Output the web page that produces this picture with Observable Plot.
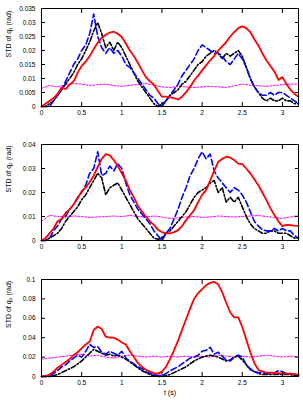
<!DOCTYPE html>
<html><head><meta charset="utf-8">
<script src="https://cdn.jsdelivr.net/npm/d3@7"></script>
<script src="https://cdn.jsdelivr.net/npm/@observablehq/plot@0.6"></script>
<style>
html,body{margin:0;padding:0;background:#fff;}
#chart svg{display:block;}
</style></head><body><div id="chart"></div>
<script>
// time grids (s)
const tFine = d3.range(65).map(i => +(i * 0.05).toFixed(2));   // 0 .. 3.2 step 0.05
const tCoarse = d3.range(33).map(i => +(i * 0.1).toFixed(1));  // 0 .. 3.2 step 0.1

const xTicks = [0, 0.5, 1, 1.5, 2, 2.5, 3];
const yTicks1 = [0, 0.005, 0.01, 0.015, 0.02, 0.025, 0.03, 0.035];
const yTicks2 = [0, 0.01, 0.02, 0.03, 0.04];
const yTicks3 = [0, 0.02, 0.04, 0.06, 0.08, 0.1];

const labels = ["STD of q\u2081 (rad)", "STD of q\u2082 (rad)", "STD of q\u2083 (rad)"];
const xLabel = "t (s)";

// ---- q1 ----
const red1 = [0,0.001,0.002,0.003,0.0045,0.0068,0.0062,0.0078,0.009,0.012,
  0.0145,0.016,0.018,0.0205,0.0228,0.0245,0.0256,0.0264,0.0267,0.026,
  0.0248,0.0225,0.020,0.018,0.0156,0.013,0.0105,0.009,0.0078,0.0055,
  0.0035,0.0035,0.0033,0.003,0.0025,0.0035,0.0051,0.007,0.0093,0.011,
  0.0129,0.0147,0.0165,0.018,0.020,0.0215,0.023,0.025,0.0266,0.028,
  0.0286,0.028,0.0266,0.024,0.0218,0.019,0.0165,0.0145,0.0125,0.0095,
  0.0105,0.008,0.006,0.0045,0.0035];
const blue1 = [0,0,0,0.002,0.004,0.006,0.009,0.012,0.015,0.017,
  0.020,0.022,0.026,0.033,0.025,0.021,0.019,0.021,0.019,0.020,
  0.018,0.015,0.014,0.012,0.010,0.008,0.006,0.004,0.003,0.001,
  0.000,0.002,0.004,0.006,0.008,0.011,0.013,0.015,0.017,0.020,
  0.022,0.021,0.020,0.019,0.019,0.018,0.016,0.015,0.017,0.019,
  0.017,0.014,0.010,0.007,0.005,0.004,0.004,0.005,0.004,0.005,
  0.005,0.004,0.003,0.002,0.001];
const black1 = [0,0,0.001,0.002,0.004,0.006,0.008,0.010,0.012,0.015,
  0.017,0.020,0.023,0.027,0.030,0.026,0.021,0.023,0.020,0.023,
  0.021,0.018,0.015,0.012,0.009,0.007,0.005,0.003,0.001,0.000,
  0.001,0.002,0.004,0.005,0.006,0.008,0.009,0.011,0.013,0.015,
  0.016,0.018,0.019,0.020,0.019,0.017,0.019,0.018,0.019,0.020,
  0.018,0.014,0.010,0.007,0.005,0.003,0.002,0.003,0.002,0.002,
  0.003,0.002,0.002,0.001,0.001];
const magenta1 = [0.0065,0.0075,0.0070,0.0078,0.0082,0.0080,0.0075,0.0078,0.0080,0.0075,
  0.0072,0.0076,0.0078,0.0082,0.0076,0.0070,0.0068,0.0072,0.0070,0.0068,
  0.0070,0.0072,0.0070,0.0068,0.0074,0.0080,0.0076,0.0074,0.0072,0.0075,
  0.0078,0.0080,0.0080];

// ---- q2 ----
const red2 = [0,0.001,0.003,0.005,0.008,0.009,0.0115,0.013,0.015,0.0175,
  0.0205,0.022,0.0244,0.027,0.0307,0.034,0.036,0.0355,0.0335,0.031,
  0.028,0.025,0.021,0.018,0.0145,0.012,0.010,0.008,0.0065,0.0045,
  0.0035,0.003,0.003,0.0035,0.0043,0.006,0.0085,0.0105,0.0126,0.016,
  0.019,0.021,0.025,0.029,0.0328,0.034,0.0349,0.0345,0.0335,0.032,
  0.0318,0.030,0.028,0.0255,0.023,0.020,0.0168,0.0135,0.0106,0.008,
  0.006,0.0065,0.0064,0.0062,0.0061];
const blue2 = [0,0,0.001,0.004,0.006,0.009,0.010,0.013,0.015,0.018,
  0.020,0.023,0.028,0.030,0.037,0.027,0.028,0.031,0.029,0.032,
  0.030,0.024,0.019,0.016,0.013,0.011,0.009,0.007,0.004,0.002,
  0.000,0.003,0.005,0.009,0.013,0.018,0.022,0.027,0.030,0.034,
  0.037,0.034,0.036,0.029,0.026,0.024,0.022,0.020,0.022,0.021,
  0.019,0.016,0.012,0.008,0.006,0.0045,0.004,0.004,0.005,0.004,
  0.005,0.004,0.004,0.002,0.001];
const black2 = [0,0,0.001,0.002,0.003,0.005,0.008,0.010,0.012,0.014,
  0.017,0.019,0.022,0.025,0.028,0.026,0.019,0.022,0.023,0.024,
  0.021,0.018,0.015,0.012,0.009,0.007,0.005,0.003,0.001,0.0005,
  0.001,0.003,0.004,0.006,0.008,0.010,0.012,0.015,0.018,0.020,
  0.021,0.022,0.024,0.025,0.020,0.022,0.016,0.018,0.016,0.018,
  0.014,0.010,0.007,0.005,0.004,0.003,0.003,0.004,0.004,0.003,
  0.003,0.003,0.002,0.001,0.001];
const magenta2 = [0.008,0.0105,0.0100,0.0098,0.0102,0.0100,0.0096,0.0098,0.0100,0.0102,
  0.0100,0.0104,0.0100,0.0098,0.0102,0.0098,0.0092,0.0095,0.0098,0.0100,
  0.0096,0.0098,0.0102,0.0100,0.0098,0.0100,0.0102,0.0104,0.0100,0.0096,
  0.0092,0.0098,0.0104];

// ---- q3 ----
const red3 = [0,0.0005,0.002,0.005,0.009,0.012,0.015,0.018,0.022,0.025,
  0.029,0.033,0.036,0.048,0.0515,0.049,0.041,0.040,0.040,0.038,
  0.035,0.033,0.026,0.020,0.014,0.010,0.007,0.005,0.0035,0.003,
  0.005,0.010,0.018,0.027,0.037,0.048,0.059,0.070,0.080,0.086,
  0.090,0.094,0.0966,0.0975,0.095,0.087,0.076,0.066,0.061,0.061,
  0.051,0.038,0.025,0.014,0.007,0.005,0.004,0.004,0.0038,0.0035,
  0.003,0.003,0.003,0.0025,0.002];
const blue3 = [0,0,0.001,0.003,0.006,0.010,0.012,0.016,0.019,0.022,
  0.020,0.026,0.033,0.030,0.031,0.025,0.023,0.026,0.024,0.022,
  0.026,0.019,0.016,0.013,0.010,0.008,0.005,0.003,0.002,0.001,
  0.001,0.003,0.006,0.008,0.010,0.013,0.016,0.019,0.020,0.022,
  0.026,0.027,0.030,0.023,0.025,0.021,0.017,0.016,0.020,0.022,
  0.020,0.012,0.008,0.005,0.004,0.004,0.003,0.003,0.004,0.006,
  0.005,0.003,0.003,0.002,0.002];
const black3 = [0,0,0,0.001,0.002,0.004,0.006,0.008,0.010,0.013,
  0.016,0.020,0.024,0.028,0.026,0.024,0.022,0.023,0.021,0.022,
  0.020,0.018,0.015,0.012,0.009,0.006,0.004,0.002,0.001,0.000,
  0.000,0.001,0.002,0.004,0.006,0.008,0.010,0.013,0.016,0.018,
  0.020,0.021,0.022,0.021,0.020,0.018,0.016,0.017,0.020,0.021,
  0.017,0.012,0.007,0.005,0.003,0.002,0.002,0.002,0.002,0.002,
  0.002,0.002,0.002,0.001,0.001];
const magenta3 = [0.018,0.019,0.020,0.021,0.022,0.023,0.021,0.022,0.020,0.019,
  0.021,0.022,0.021,0.020,0.021,0.020,0.021,0.020,0.021,0.020,
  0.021,0.020,0.022,0.021,0.020,0.021,0.020,0.021,0.022,0.021,
  0.020,0.021,0.020];

const fmt = d => String(+(+d).toFixed(4));
const FONT = "'Liberation Sans', Arial, Helvetica, sans-serif";

function panel({red, blue, black, magenta, yTicks, yMax, ylabel, height, mt, mb, xlab}) {
  const fine = tFine.map((t, i) => ({t, red: red[i], blue: blue[i], black: black[i]}));
  const coarse = tCoarse.map((t, i) => ({t, v: magenta[i]}));
  const marks = [
    Plot.line(coarse, {x: "t", y: "v", stroke: "#ff00ff", strokeWidth: 1, strokeDasharray: "2,1.5"}),
    Plot.line(fine, {x: "t", y: "black", stroke: "#000", strokeWidth: 1.6, strokeDasharray: "5,2,1.5,2"}),
    Plot.line(fine, {x: "t", y: "blue", stroke: "#0000ff", strokeWidth: 1.6, strokeDasharray: "6,3"}),
    Plot.line(fine, {x: "t", y: "red", stroke: "#ff0000", strokeWidth: 1.8}),
    Plot.axisX(xTicks, {anchor: "bottom", tickSize: -4, fill: "none", label: null}),
    Plot.axisX(xTicks, {anchor: "top", tickSize: -4, fill: "none", label: null}),
    Plot.axisX(xTicks, {anchor: "bottom", tickSize: 0, tickPadding: 4, tickFormat: fmt, label: null}),
    Plot.axisY(yTicks, {anchor: "left", tickSize: -4, fill: "none", label: null}),
    Plot.axisY(yTicks, {anchor: "right", tickSize: -4, fill: "none", label: null}),
    Plot.axisY(yTicks, {anchor: "left", tickSize: 0, tickPadding: 6, tickFormat: fmt, label: null}),
    Plot.text([ylabel], {frameAnchor: "left", text: d => d, rotate: -90, dx: -33, fontSize: 7}),
    Plot.frame({stroke: "#000", strokeWidth: 1})
  ];
  if (xlab) marks.push(Plot.text([xlab], {frameAnchor: "bottom", text: d => d, dy: 18, fontSize: 7}));
  return Plot.plot({
    width: 303, height, marginLeft: 41, marginRight: 5, marginTop: mt, marginBottom: mb,
    style: {fontFamily: FONT, fontSize: "6.5px", background: "#fff", color: "#000", overflow: "visible"},
    x: {domain: [0, 3.2], axis: null},
    y: {domain: [0, yMax], axis: null},
    marks
  });
}

const chart = document.getElementById("chart");
chart.append(panel({red: red1, blue: blue1, black: black1, magenta: magenta1, yTicks: yTicks1, yMax: 0.035, ylabel: labels[0], height: 134, mt: 8, mb: 28}));
chart.append(panel({red: red2, blue: blue2, black: black2, magenta: magenta2, yTicks: yTicks2, yMax: 0.04, ylabel: labels[1], height: 135, mt: 10, mb: 29}));
chart.append(panel({red: red3, blue: blue3, black: black3, magenta: magenta3, yTicks: yTicks3, yMax: 0.1, ylabel: labels[2], height: 134, mt: 10, mb: 27, xlab: xLabel}));
</script></body></html>
